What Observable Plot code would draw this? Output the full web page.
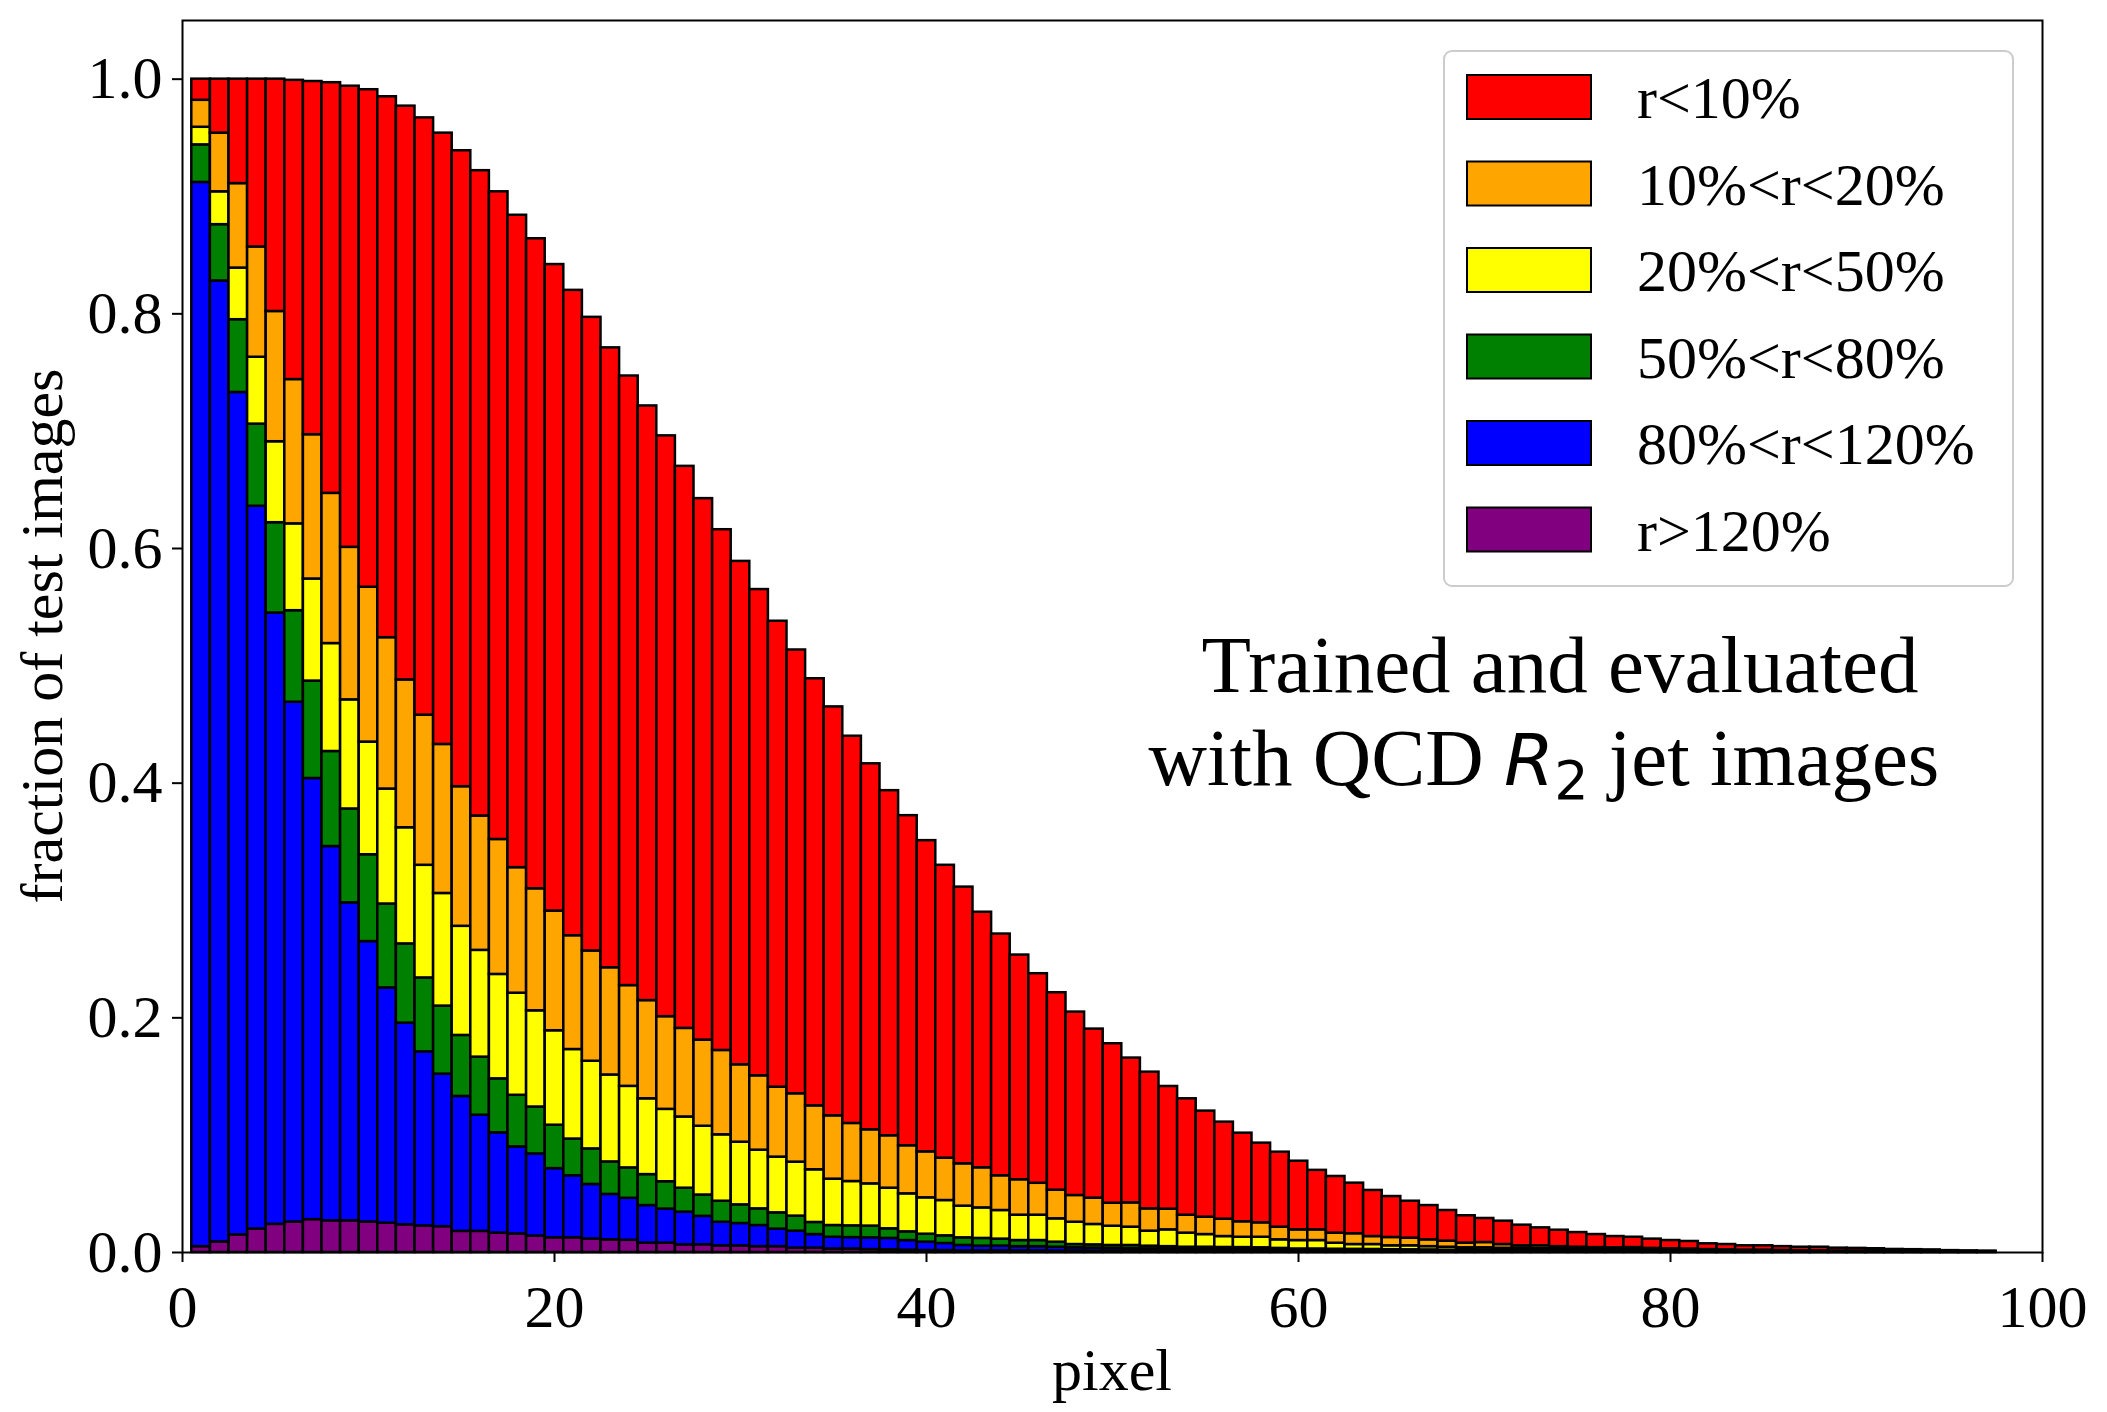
<!DOCTYPE html>
<html>
<head>
<meta charset="utf-8">
<script src="https://cdn.jsdelivr.net/npm/d3@7"></script>
<script src="https://cdn.jsdelivr.net/npm/@observablehq/plot@0.6"></script>
<style>
  html, body { margin: 0; padding: 0; background: white; }
</style>
</head>
<body>
<div id="chart"></div>
<script>
// Bar positions (pixel index)
const pixel = [1,2,3,4,5,6,7,8,9,10,11,12,13,14,15,16,17,18,19,20,21,22,23,24,25,26,27,28,29,30,31,32,33,34,35,36,37,38,39,40,41,42,43,44,45,46,47,48,49,50,51,52,53,54,55,56,57,58,59,60,61,62,63,64,65,66,67,68,69,70,71,72,73,74,75,76,77,78,79,80,81,82,83,84,85,86,87,88,89,90,91,92,93,94,95,96,97];

// Cumulative top of each stacked layer
const topPurple = [0.005,0.009,0.015,0.020,0.024,0.026,0.028,0.027,0.027,0.026,0.025,0.0236,0.0226,0.022,0.018,0.018,0.0165,0.0158,0.014,0.0125,0.0125,0.0115,0.0108,0.0104,0.008,0.008,0.0065,0.0066,0.0056,0.0056,0.005,0.005,0.0037,0.0037,0.003,0.003,0.0025,0.0023,0.002,0.0017,0.0017,0.0014,0.0014,0.0015,0.0015,0.0015,0.0013,0.0013,0.0012,0.0012,0.0011,0.001,0.001,0.0009,0.0009,0.0008,0.0008,0.0008,0.0007,0.0007,0.0006,0.0006,0.0005,0.0005,0.0005,0.0004,0.0004,0.0004,0.0003,0.0003,0.0003,0.0003,0.0002,0.0002,0.0002,0.0002,0.0002,0.0002,0.0001,0.0001,0.0001,0.0001,0.0001,0.0001,0.0001,0.0001,0.0001,0.0001,0.0001,0.0001,0.0001,0.0001,0,0,0,0,0];
const topBlue = [0.912,0.828,0.733,0.636,0.545,0.469,0.404,0.346,0.298,0.265,0.2255,0.1955,0.171,0.152,0.133,0.117,0.102,0.090,0.084,0.0715,0.0654,0.058,0.0495,0.0462,0.040,0.037,0.0344,0.0308,0.0258,0.0247,0.023,0.0199,0.0182,0.0153,0.013,0.0127,0.0125,0.012,0.0102,0.0088,0.0077,0.006,0.0054,0.0055,0.005,0.005,0.0045,0.004,0.0038,0.0035,0.0033,0.0031,0.003,0.0028,0.0027,0.0025,0.0024,0.0023,0.002,0.0019,0.0018,0.0017,0.0016,0.0015,0.0014,0.0013,0.0012,0.0011,0.001,0.001,0.0009,0.0008,0.0008,0.0007,0.0007,0.0006,0.0006,0.0006,0.0005,0.0005,0.0005,0.0004,0.0004,0.0003,0.0003,0.0003,0.0003,0.0002,0.0002,0.0002,0.0002,0.0002,0.0001,0.0001,0.0001,0.0001,0.0001];
const topGreen = [0.944,0.876,0.795,0.706,0.622,0.547,0.487,0.427,0.378,0.339,0.297,0.263,0.234,0.210,0.185,0.1665,0.148,0.134,0.124,0.1085,0.0967,0.0883,0.0772,0.0721,0.0664,0.0603,0.0548,0.049,0.0437,0.0406,0.0372,0.0338,0.031,0.0256,0.023,0.0227,0.0225,0.0202,0.0176,0.0156,0.0142,0.0125,0.012,0.0114,0.0102,0.0102,0.0088,0.0068,0.0065,0.006,0.006,0.0054,0.005,0.0045,0.0045,0.0043,0.0042,0.004,0.0035,0.003,0.003,0.0028,0.0027,0.0026,0.0024,0.0023,0.0022,0.002,0.0019,0.0018,0.0017,0.0016,0.0015,0.0014,0.0013,0.0012,0.0011,0.0011,0.001,0.0009,0.0009,0.0008,0.0007,0.0006,0.0006,0.0005,0.0005,0.0005,0.0004,0.0004,0.0003,0.0003,0.0003,0.0002,0.0002,0.0002,0.0001];
const topYellow = [0.959,0.904,0.839,0.763,0.691,0.621,0.574,0.519,0.471,0.435,0.395,0.362,0.330,0.306,0.278,0.2575,0.237,0.221,0.206,0.189,0.173,0.163,0.1513,0.1416,0.131,0.122,0.1155,0.1076,0.1003,0.094,0.0872,0.0813,0.077,0.0705,0.0625,0.0605,0.0585,0.0548,0.050,0.0466,0.0443,0.0395,0.038,0.0358,0.0318,0.0318,0.0287,0.0258,0.0239,0.0224,0.0216,0.0182,0.0193,0.0165,0.0153,0.0136,0.013,0.013,0.0108,0.0102,0.0102,0.0079,0.0068,0.0068,0.0057,0.0057,0.005,0.0045,0.004,0.004,0.0036,0.0034,0.0032,0.003,0.0027,0.0025,0.0023,0.0024,0.002,0.0019,0.0018,0.0015,0.0014,0.0012,0.0012,0.0011,0.001,0.001,0.0008,0.0008,0.0007,0.0006,0.0005,0.0005,0.0004,0.0003,0.0003];
const topOrange = [0.982,0.954,0.911,0.857,0.802,0.744,0.697,0.647,0.601,0.567,0.524,0.488,0.458,0.433,0.397,0.372,0.352,0.328,0.310,0.291,0.270,0.257,0.2427,0.2275,0.2147,0.201,0.191,0.181,0.1722,0.160,0.1506,0.1409,0.1353,0.125,0.1165,0.110,0.1046,0.0995,0.091,0.0858,0.0804,0.0756,0.0722,0.0654,0.062,0.059,0.0531,0.0486,0.0463,0.042,0.0423,0.0372,0.0369,0.0318,0.0301,0.0284,0.0262,0.0253,0.0216,0.0193,0.0193,0.0165,0.016,0.0136,0.0128,0.0122,0.0108,0.0097,0.008,0.0085,0.0068,0.0057,0.0057,0.005,0.0045,0.0042,0.004,0.0042,0.0035,0.0032,0.003,0.0025,0.0023,0.002,0.002,0.0018,0.0016,0.0016,0.0013,0.0012,0.0011,0.0009,0.0008,0.0008,0.0006,0.0005,0.0004];
const topRed = [1.000,1.000,1.000,1.000,1.000,0.999,0.998,0.997,0.994,0.991,0.985,0.977,0.967,0.954,0.939,0.922,0.904,0.884,0.864,0.842,0.820,0.797,0.771,0.747,0.7215,0.696,0.670,0.6425,0.616,0.589,0.565,0.538,0.5135,0.489,0.465,0.440,0.4165,0.3936,0.3723,0.351,0.330,0.3114,0.290,0.2714,0.2535,0.2376,0.2214,0.2049,0.1904,0.1779,0.1657,0.1537,0.1415,0.131,0.1205,0.1111,0.1017,0.0932,0.0855,0.0778,0.070,0.0648,0.0591,0.0529,0.0477,0.0437,0.040,0.0358,0.0313,0.029,0.0267,0.0233,0.021,0.019,0.017,0.0153,0.0136,0.013,0.0114,0.0102,0.0094,0.0074,0.0068,0.0057,0.0057,0.005,0.0045,0.0045,0.0037,0.0035,0.0032,0.0026,0.0024,0.0022,0.0016,0.0014,0.0012];

// Series (bottom to top) and colours
const seriesNames = ["r>120%", "80%<r<120%", "50%<r<80%", "20%<r<50%", "10%<r<20%", "r<10%"];
const seriesColors = ["#800080", "#0000ff", "#008000", "#ffff00", "#ffa500", "#ff0000"];

// Axis ticks
const xTicks = [0, 20, 40, 60, 80, 100];
const yTicks = [0.0, 0.2, 0.4, 0.6, 0.8, 1.0];

// Texts
const xLabel = "pixel";
const yLabel = "fraction of test images";
const noteLine1 = "Trained and evaluated";

// Build the table for the stacked rects
const layers = [topPurple, topBlue, topGreen, topYellow, topOrange, topRed];
const rows = [];
layers.forEach((tops, s) => {
  pixel.forEach((p, i) => {
    rows.push({
      x1: p - 0.5,
      x2: p + 0.5,
      y1: s === 0 ? 0 : layers[s - 1][i],
      y2: tops[i],
      series: seriesNames[s]
    });
  });
});

const W = 2107, H = 1412;
const serif = "'Liberation Serif', 'Times New Roman', 'DejaVu Serif', serif";

const chart = Plot.plot({
  width: W,
  height: H,
  marginLeft: 182,
  marginRight: 65,
  marginTop: 20,
  marginBottom: 160,
  style: {fontFamily: serif, fontSize: "60px", color: "black", background: "white", overflow: "visible"},
  x: {domain: [0, 100]},
  y: {domain: [0, 1.05]},
  color: {domain: seriesNames, range: seriesColors},
  marks: [
    Plot.rect(rows, {x1: "x1", x2: "x2", y1: "y1", y2: "y2", fill: "series", stroke: "black", strokeWidth: 2.5}),
    Plot.frame({stroke: "black", strokeWidth: 2}),
    Plot.axisX({ticks: xTicks, tickSize: 10, tickPadding: 22, tickFormat: d => String(d), label: null, strokeWidth: 2}),
    Plot.axisY({ticks: yTicks, tickSize: 10, tickPadding: 10, tickFormat: d3.format(".1f"), label: null, strokeWidth: 2})
  ]
});

document.getElementById("chart").appendChild(chart);

const svg = d3.select(chart);

// Axis labels
svg.append("text")
  .attr("x", 1112).attr("y", 1390)
  .attr("text-anchor", "middle")
  .style("font-family", serif).style("font-size", "60px").attr("fill", "black")
  .text(xLabel);

svg.append("text")
  .attr("transform", "translate(62,636) rotate(-90)")
  .attr("text-anchor", "middle")
  .style("font-family", serif).style("font-size", "60px").attr("fill", "black")
  .text(yLabel);

// Legend
const lg = svg.append("g").attr("text-anchor", "start");
lg.append("rect")
  .attr("x", 1444).attr("y", 51).attr("width", 569).attr("height", 535)
  .attr("rx", 8).attr("ry", 8)
  .attr("fill", "white").attr("fill-opacity", 0.8)
  .attr("stroke", "#cccccc").attr("stroke-width", 2);
const legendOrder = seriesNames.map((n, i) => ({name: n, color: seriesColors[i]})).reverse();
legendOrder.forEach((d, i) => {
  const top = 75 + i * 86.5;
  lg.append("rect")
    .attr("x", 1467).attr("y", top).attr("width", 124).attr("height", 44)
    .attr("fill", d.color).attr("stroke", "black").attr("stroke-width", 2);
  lg.append("text")
    .attr("x", 1637).attr("y", top + 43)
    .attr("text-anchor", "start")
    .style("font-family", serif).style("font-size", "60px").attr("fill", "black")
    .text(d.name);
});

// Annotation
svg.append("text")
  .attr("x", 1560).attr("y", 692)
  .attr("text-anchor", "middle")
  .style("font-family", serif).style("font-size", "81px").attr("fill", "black")
  .text(noteLine1);

const t2 = svg.append("text")
  .attr("x", 1544).attr("y", 785)
  .attr("text-anchor", "middle")
  .style("font-family", serif).style("font-size", "81px").attr("fill", "black");
t2.append("tspan").text("with QCD ");
t2.append("tspan")
  .style("font-family", "'DejaVu Sans', sans-serif").style("font-style", "italic").style("font-size", "72px")
  .text("R");
t2.append("tspan")
  .attr("dy", 14)
  .style("font-family", "'DejaVu Sans', sans-serif").style("font-size", "54px")
  .text("2");
t2.append("tspan")
  .attr("dy", -14)
  .text(" jet images");
</script>
</body>
</html>
